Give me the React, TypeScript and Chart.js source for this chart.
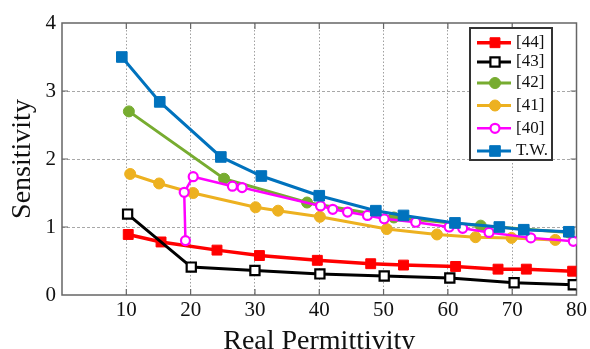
import { useEffect, useRef } from 'react';
import { Chart, registerables } from 'chart.js';

Chart.register(...registerables);

const seriesLabels = ['[44]', '[43]', '[42]', '[41]', '[40]', 'T.W.'];

const xTickValues = [10, 20, 30, 40, 50, 60, 70, 80];
const yTickValues = [0, 1, 2, 3, 4];

const ref44X = [10.3, 15.4, 24.1, 30.7, 39.7, 48.0, 53.1, 61.2, 67.8, 72.2, 79.4];
const ref44Y = [0.89, 0.78, 0.66, 0.58, 0.51, 0.46, 0.44, 0.42, 0.38, 0.38, 0.35];

const ref43X = [10.2, 20.1, 30.0, 40.1, 50.1, 60.3, 70.3, 79.5];
const ref43Y = [1.19, 0.41, 0.36, 0.31, 0.28, 0.25, 0.18, 0.15];

const ref42X = [10.4, 25.2, 38.1, 51.6, 65.1, 78.8];
const ref42Y = [2.7, 1.71, 1.36, 1.14, 1.02, 0.92];

const ref41X = [10.6, 15.1, 20.4, 30.1, 33.6, 40.1, 50.5, 58.3, 64.3, 69.9, 76.7];
const ref41Y = [1.78, 1.64, 1.5, 1.29, 1.24, 1.15, 0.97, 0.89, 0.85, 0.84, 0.81];

const ref40X = [19.2, 19.0, 20.4, 26.5, 28.0, 40.2, 42.1, 44.4, 47.5, 50.1, 55.0, 60.2, 62.3, 66.4, 72.9, 79.5];
const ref40Y = [0.8, 1.51, 1.74, 1.6, 1.58, 1.31, 1.26, 1.22, 1.17, 1.12, 1.07, 1.0, 0.98, 0.92, 0.84, 0.79];

const twX = [9.3, 15.2, 24.7, 31.0, 40.0, 48.8, 53.1, 61.1, 68.0, 71.8, 78.8];
const twY = [3.5, 2.84, 2.03, 1.75, 1.46, 1.24, 1.17, 1.06, 1.0, 0.96, 0.93];

const FONT = '"Liberation Serif", "Times New Roman", serif';

const zip = (xs: number[], ys: number[]) => xs.map((x, i) => ({ x, y: ys[i] }));

const framePlugin = {
  id: 'frame',
  beforeDatasetsDraw(chart: any) {
    const { ctx, chartArea: a, scales } = chart;
    ctx.save();
    ctx.strokeStyle = '#666';
    ctx.lineWidth = 1.5;
    ctx.strokeRect(a.left, a.top, a.right - a.left, a.bottom - a.top);
    ctx.lineWidth = 1.2;
    ctx.strokeStyle = '#666';
    const tl = 6;
    xTickValues.forEach((v) => {
      if (v >= 80) return;
      const px = scales.x.getPixelForValue(v);
      ctx.beginPath();
      ctx.moveTo(px, a.top);
      ctx.lineTo(px, a.top + tl);
      ctx.moveTo(px, a.bottom);
      ctx.lineTo(px, a.bottom - tl);
      ctx.stroke();
    });
    yTickValues.forEach((v) => {
      if (v <= 0 || v >= 4) return;
      const py = scales.y.getPixelForValue(v);
      ctx.beginPath();
      ctx.moveTo(a.left, py);
      ctx.lineTo(a.left + tl, py);
      ctx.moveTo(a.right, py);
      ctx.lineTo(a.right - tl, py);
      ctx.stroke();
    });
    ctx.restore();
  },
};

const legendPlugin = {
  id: 'boxLegend',
  afterDraw(chart: any) {
    const { ctx } = chart;
    const bx = 470, by = 28, bw = 82, bh = 132;
    ctx.save();
    ctx.fillStyle = '#fff';
    ctx.fillRect(bx, by, bw, bh);
    ctx.strokeStyle = '#333';
    ctx.lineWidth = 2;
    ctx.strokeRect(bx, by, bw, bh);
    const rows = [42.7, 62, 83, 105.5, 128.3, 151];
    chart.data.datasets.forEach((ds: any, i: number) => {
      const y = rows[i];
      ctx.strokeStyle = ds.borderColor;
      ctx.lineWidth = ds.borderWidth;
      ctx.beginPath();
      ctx.moveTo(477, y);
      ctx.lineTo(511, y);
      ctx.stroke();
      ctx.fillStyle = ds.pointBackgroundColor;
      ctx.strokeStyle = ds.pointBorderColor;
      ctx.lineWidth = ds.pointBorderWidth;
      const r = ds.pointRadius;
      if (ds.pointStyle === 'rect') {
        const s = r * Math.SQRT1_2;
        ctx.beginPath();
        ctx.rect(495 - s, y - s, 2 * s, 2 * s);
        ctx.fill();
        ctx.stroke();
      } else {
        ctx.beginPath();
        ctx.arc(495, y, r, 0, Math.PI * 2);
        ctx.fill();
        ctx.stroke();
      }
      ctx.fillStyle = '#111';
      ctx.font = `17px ${FONT}`;
      ctx.textBaseline = 'middle';
      ctx.textAlign = 'left';
      ctx.fillText(seriesLabels[i], 516, y);
    });
    ctx.restore();
  },
};

export default function App() {
  const canvasRef = useRef<HTMLCanvasElement | null>(null);

  useEffect(() => {
    document.body.style.margin = '0';
    const canvas = canvasRef.current;
    if (!canvas) return;

    const mk = (
      label: string,
      xs: number[],
      ys: number[],
      color: string,
      style: string,
      open: boolean,
      lw: number,
      r: number,
      order: number
    ) => ({
      label,
      data: zip(xs, ys),
      borderColor: color,
      backgroundColor: color,
      borderWidth: lw,
      pointStyle: style,
      pointRadius: r,
      pointBackgroundColor: open ? '#fff' : color,
      pointBorderColor: color,
      pointBorderWidth: open ? 2.2 : 1,
      tension: 0,
      order,
    });

    const chart = new Chart(canvas, {
      type: 'line',
      data: {
        datasets: [
          mk(seriesLabels[0], ref44X, ref44Y, '#ff0000', 'rect', false, 3.5, 7, 5),
          mk(seriesLabels[1], ref43X, ref43Y, '#000000', 'rect', true, 3, 6.5, 4),
          mk(seriesLabels[2], ref42X, ref42Y, '#77ac30', 'circle', false, 3, 5.5, 3),
          mk(seriesLabels[3], ref41X, ref41Y, '#edb120', 'circle', false, 3, 5.5, 2),
          mk(seriesLabels[4], ref40X, ref40Y, '#ff00ff', 'circle', true, 2.5, 4.5, 1),
          mk(seriesLabels[5], twX, twY, '#0072bd', 'rect', false, 3, 7.5, 0),
        ] as any,
      },
      options: {
        responsive: false,
        animation: false,
        layout: { padding: { top: 23, right: 11, left: 0, bottom: 0 } },
        plugins: {
          legend: { display: false },
          tooltip: { enabled: false },
        },
        scales: {
          x: {
            type: 'linear',
            min: 0,
            max: 80,
            afterFit: (s: any) => {
              s.height = 54;
            },
            afterBuildTicks: (s: any) => {
              s.ticks = [0, ...xTickValues].map((v) => ({ value: v }));
            },
            ticks: {
              callback: (v: any) => (v === 0 ? '' : String(v)),
              font: { family: FONT, size: 21 },
              color: '#111',
              padding: 3,
              maxRotation: 0,
            },
            grid: {
              drawTicks: false,
              color: (c: any) =>
                c.tick && (c.tick.value === 0 || c.tick.value === 80) ? 'rgba(0,0,0,0)' : '#a0a0a0',
              lineWidth: 1,
            },
            border: { display: false, dash: [1.5, 2] },
            title: {
              display: true,
              text: 'Real Permittivity',
              font: { family: FONT, size: 28, lineHeight: 1 },
              color: '#111',
              padding: { top: 0, bottom: -7 },
            },
          },
          y: {
            type: 'linear',
            min: 0,
            max: 4,
            afterFit: (s: any) => {
              s.width = 62;
            },
            afterBuildTicks: (s: any) => {
              s.ticks = yTickValues.map((v) => ({ value: v }));
            },
            ticks: {
              font: { family: FONT, size: 21 },
              color: '#111',
              padding: 6,
            },
            grid: {
              drawTicks: false,
              color: (c: any) =>
                c.tick && (c.tick.value === 0 || c.tick.value === 4) ? 'rgba(0,0,0,0)' : '#a8a8a8',
              lineWidth: 1,
            },
            border: { display: false, dash: [3, 2] },
            title: {
              display: true,
              text: 'Sensitivity',
              font: { family: FONT, size: 28, lineHeight: 1 },
              color: '#111',
              padding: { top: 9, bottom: 0 },
            },
          },
        },
      },
      plugins: [framePlugin, legendPlugin],
    });

    return () => chart.destroy();
  }, []);

  return (
    <div style={{ width: 590, height: 349 }}>
      <canvas ref={canvasRef} width={590} height={349} style={{ width: 590, height: 349, display: 'block' }} />
    </div>
  );
}
